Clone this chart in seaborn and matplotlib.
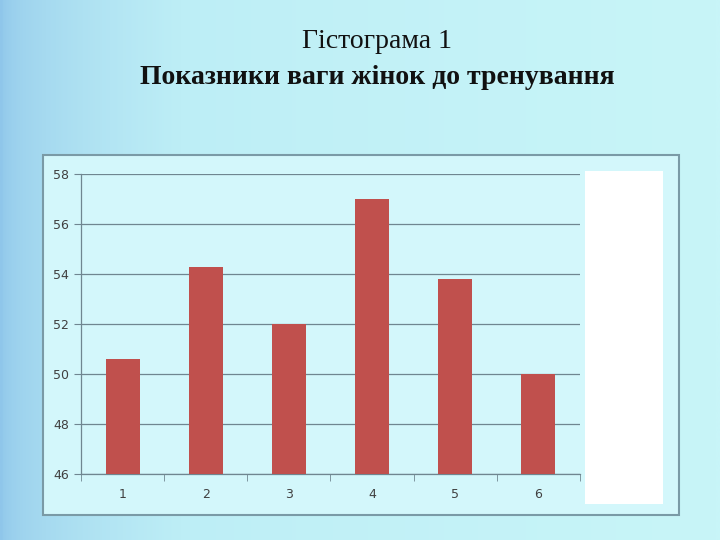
import numpy as np
import pandas as pd
import seaborn as sns
import matplotlib.pyplot as plt
from matplotlib.patches import Rectangle

# data
categories = ['1', '2', '3', '4', '5', '6']
weights = [50.6, 54.3, 52.0, 57.0, 53.8, 50.0]
y_ticks = [46, 48, 50, 52, 54, 56, 58]

df = pd.DataFrame({'n': categories, 'w': weights})

sns.set_style('white')
fig = plt.figure(figsize=(7.2, 5.4), dpi=100)

# slide background: soft blue-to-cyan gradient
bg = fig.add_axes([0, 0, 1, 1], zorder=-10)
grad = np.linspace(0, 1, 256)[None, :] ** 0.5
bg.imshow(grad, aspect='auto', cmap=sns.blend_palette(['#8fc6ea', '#bdeef6', '#c8f5f8'], as_cmap=True),
          extent=[0, 1, 0, 1], transform=bg.transAxes)
bg.axis('off')

# chart frame
fig.patches.append(Rectangle((43 / 720, 1 - 515 / 540), 636 / 720, 360 / 540, transform=fig.transFigure,
                             facecolor='#d3f7fb', edgecolor='#7a9aa6', lw=1.5, zorder=-5))
# empty legend box
fig.patches.append(Rectangle((585 / 720, 1 - 504 / 540), 78 / 720, 333 / 540, transform=fig.transFigure,
                             facecolor='white', edgecolor='none', zorder=-4))

ax = fig.add_axes([81 / 720, 1 - 474 / 540, 499 / 720, 300 / 540])
ax.set_facecolor('#d3f7fb')
sns.barplot(data=df, x='n', y='w', color='#c0504d', width=0.41, saturation=1,
            linewidth=0, ax=ax, zorder=3)

ax.set_ylim(46, 58)
ax.set_yticks(y_ticks)
ax.set_xlim(-0.5, 5.5)
ax.grid(axis='y', color='#6f8690', lw=0.9, zorder=0)
ax.set_xlabel('')
ax.set_ylabel('')
for s in ['top', 'right']:
    ax.spines[s].set_visible(False)
for s in ['left', 'bottom']:
    ax.spines[s].set_color('#6f8690')
    ax.spines[s].set_linewidth(0.9)
ax.tick_params(axis='y', length=5, color='#6f8690', labelsize=9, labelcolor='#404040', left=True)
ax.tick_params(axis='x', length=0, labelsize=9, labelcolor='#404040', pad=10)
ax.set_xticks(np.arange(-0.5, 6, 1), minor=True)
ax.tick_params(axis='x', which='minor', length=5, color='#6f8690', bottom=True)

fig.text(377 / 720, 1 - 42 / 540, 'Гістограма 1', ha='center', va='center',
         family='Liberation Serif', fontsize=20, color='#111111')
fig.text(377 / 720, 1 - 77 / 540, 'Показники ваги жінок до тренування', ha='center', va='center',
         family='Liberation Serif', fontsize=20, fontweight='bold', color='#111111')

fig.savefig('out.png', dpi=100)
